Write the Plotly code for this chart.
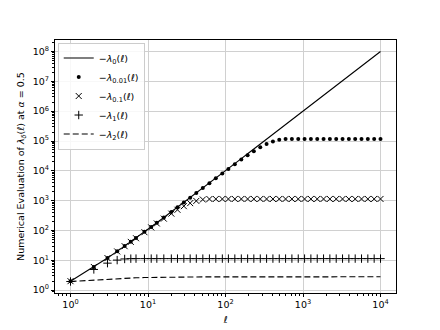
import plotly.graph_objects as go

# ---- data ----
ell = [1, 2, 3, 4, 5, 6, 7, 9, 11, 13, 16, 20, 24, 29, 35, 42, 51, 62, 75, 91,
       109, 132, 160, 193, 232, 281, 339, 409, 494, 596, 719, 868, 1048, 1264,
       1526, 1842, 2222, 2682, 3237, 3906, 4714, 5689, 6866, 8286, 10000]

lam_0 = [2, 6, 12, 20, 30, 42, 56, 90, 132, 182, 272, 420, 600, 870, 1260, 1806,
         2652, 3906, 5700, 8372, 11990, 17556, 25760, 37442, 54056, 79242,
         115260, 167690, 244530, 355812, 517680, 754292, 1099352, 1598960,
         2330202, 3394806, 4939506, 7195806, 10481406, 15260742, 22226510,
         32370410, 47149422, 68666082, 100010000]

lam_001 = [2, 6, 12, 20, 30, 42, 56, 90, 132, 182, 272, 419, 598, 867, 1253, 1792,
           2631, 3860, 5604, 8164, 11570, 16650, 23810, 33330, 45610, 61520,
           79230, 96490, 109490, 115600, 116930, 117000, 117000, 117000,
           117000, 117000, 117000, 117000, 117000, 117000, 117000, 117000,
           117000, 117000, 117000]

lam_01 = [2, 5.98, 11.9, 19.8, 29.7, 41.4, 55.0, 87.5, 126.7, 171.9, 249.5, 367.2,
          494.0, 653.0, 825.6, 979.4, 1090, 1134, 1139, 1140, 1140, 1140, 1140,
          1140, 1140, 1140, 1140, 1140, 1140, 1140, 1140, 1140, 1140, 1140,
          1140, 1140, 1140, 1140, 1140, 1140, 1140, 1140, 1140, 1140, 1140]

lam_1 = [1.95, 4.94, 8.03, 10.16, 11.11, 11.36, 11.4, 11.4, 11.4, 11.4, 11.4,
         11.4, 11.4, 11.4, 11.4, 11.4, 11.4, 11.4, 11.4, 11.4, 11.4, 11.4, 11.4,
         11.4, 11.4, 11.4, 11.4, 11.4, 11.4, 11.4, 11.4, 11.4, 11.4, 11.4, 11.4,
         11.4, 11.4, 11.4, 11.4, 11.4, 11.4, 11.4, 11.4, 11.4, 11.4]

lam_2 = [1.95, 2.2, 2.35, 2.45, 2.52, 2.57, 2.6, 2.64, 2.67, 2.69, 2.71, 2.73,
         2.74, 2.75, 2.76, 2.77, 2.78, 2.78, 2.78, 2.78, 2.78, 2.78, 2.78, 2.78,
         2.78, 2.78, 2.79, 2.79, 2.79, 2.79, 2.79, 2.79, 2.8, 2.8, 2.8, 2.8, 2.8,
         2.8, 2.8, 2.8, 2.8, 2.8, 2.8, 2.8, 2.8]

x_tick_vals = [1, 10, 100, 1000, 10000]
x_tick_text = ["10<sup>0</sup>", "10<sup>1</sup>", "10<sup>2</sup>", "10<sup>3</sup>", "10<sup>4</sup>"]
y_tick_vals = [1, 10, 100, 1e3, 1e4, 1e5, 1e6, 1e7, 1e8]
y_tick_text = ["10<sup>%d</sup>" % i for i in range(9)]

names = [
    "−<i>λ</i><sub>0</sub>(<i>ℓ</i>)",
    "−<i>λ</i><sub>0.01</sub>(<i>ℓ</i>)",
    "−<i>λ</i><sub>0.1</sub>(<i>ℓ</i>)",
    "−<i>λ</i><sub>1</sub>(<i>ℓ</i>)",
    "−<i>λ</i><sub>2</sub>(<i>ℓ</i>)",
]

FONT = "DejaVu Sans"

fig = go.Figure()
fig.add_trace(go.Scatter(x=ell, y=lam_0, mode="lines", name=names[0],
                         line=dict(color="black", width=1.1)))
fig.add_trace(go.Scatter(x=ell, y=lam_001, mode="markers", name=names[1],
                         marker=dict(symbol="circle", size=4, color="black")))
fig.add_trace(go.Scatter(x=ell, y=lam_01, mode="markers", name=names[2],
                         marker=dict(symbol="x-thin", size=6, color="black",
                                     line=dict(width=1, color="black"))))
fig.add_trace(go.Scatter(x=ell, y=lam_1, mode="markers", name=names[3],
                         marker=dict(symbol="cross-thin", size=6, color="black",
                                     line=dict(width=1, color="black"))))
fig.add_trace(go.Scatter(x=ell, y=lam_2, mode="lines", name=names[4],
                         line=dict(color="black", width=1.1, dash="6px,3px")))

axis_common = dict(
    type="log", showline=True, linecolor="black", linewidth=1, mirror=True,
    ticks="outside", ticklen=3, tickwidth=1, tickcolor="black",
    showgrid=True, gridcolor="#d0d0d0", gridwidth=0.8, zeroline=False,
    automargin=False,
    tickfont=dict(family=FONT, size=9.5, color="black"),
    minor=dict(ticks="outside", ticklen=2, tickwidth=0.6, tickcolor="black",
               dtick="D1", showgrid=False),
)

fig.update_xaxes(range=[-0.2, 4.2], tickmode="array", tickvals=x_tick_vals,
                 ticktext=x_tick_text,
                 title=dict(text="<i>ℓ</i>", font=dict(family=FONT, size=9.5, color="black"),
                            standoff=6),
                 **axis_common)
fig.update_yaxes(range=[-0.096, 8.386], tickmode="array", tickvals=y_tick_vals,
                 ticktext=y_tick_text,
                 title=dict(text="Numerical Evaluation of <i>λ</i><sub><i>δ</i></sub>(<i>ℓ</i>) at <i>α</i> = 0.5",
                            font=dict(family=FONT, size=9.5, color="black"), standoff=6),
                 **axis_common)

# page body has an 8px margin, so the figure is drawn 8px in from the window corner
fig.update_layout(
    width=432, height=322,
    margin=dict(l=47, r=44, t=32, b=37),
    paper_bgcolor="white", plot_bgcolor="white",
    font=dict(family=FONT, size=9.5, color="black"),
    legend=dict(x=0.008, y=0.99, xanchor="left", yanchor="top",
                bgcolor="rgba(255,255,255,0.85)", bordercolor="#cccccc", borderwidth=1,
                font=dict(family=FONT, size=9.5, color="black"),
                tracegroupgap=0, itemwidth=30),
    showlegend=True,
)

fig.write_html("out.html")
